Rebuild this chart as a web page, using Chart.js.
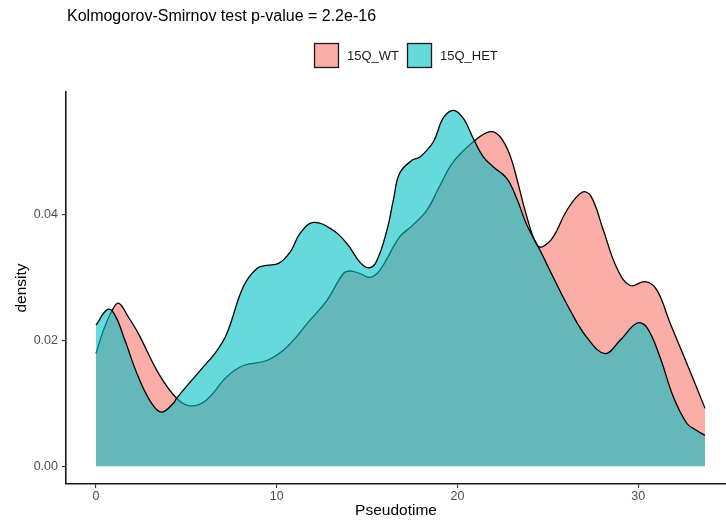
<!DOCTYPE html>
<html>
<head>
<meta charset="utf-8">
<script src="https://cdn.jsdelivr.net/npm/chart.js@4.4.1/dist/chart.umd.min.js"></script>
<style>
  html, body { margin: 0; padding: 0; background: #ffffff; }
  #wrap { width: 726px; height: 525px; position: relative; }
</style>
</head>
<body>
<div id="wrap"><canvas id="chart" width="726" height="525"></canvas></div>
<script>
// Kernel density of pseudotime for the two genotypes
const chartTitle = "Kolmogorov-Smirnov test p-value = 2.2e-16";
const groups = ["15Q_WT", "15Q_HET"];

const wtPseudotime = [0, 0.4, 0.85, 1.24, 1.79, 2.34, 3.45, 4.46, 5.2, 6.1, 7.23, 8.15, 9.45, 10.55, 11.84, 12.77, 13.69, 14.06, 14.6, 15.16, 15.7, 16.8, 17.5, 18.3, 19.04, 19.77, 20.88, 21.8, 22.36, 22.9, 23.3, 23.8, 24.39, 24.75, 25.3, 26.05, 26.9, 27.4, 28.07, 28.8, 29.55, 30.4, 31.03, 31.77, 32.7, 33.7];
const wtDensity    = [0.0179, 0.0215, 0.0245, 0.0259, 0.0237, 0.0211, 0.0148, 0.0108, 0.0096, 0.0105, 0.0142, 0.0160, 0.0168, 0.0189, 0.0232, 0.0263, 0.0306, 0.0310, 0.0306, 0.0300, 0.0311, 0.0364, 0.0382, 0.0406, 0.0446, 0.0483, 0.0515, 0.0531, 0.0523, 0.0494, 0.0455, 0.0400, 0.0351, 0.0349, 0.0364, 0.0406, 0.0435, 0.0428, 0.0375, 0.0316, 0.0287, 0.0293, 0.0280, 0.0227, 0.0163, 0.0092];

const hetPseudotime = [0, 0.65, 1.05, 1.6, 2.34, 3.08, 3.63, 4.28, 4.46, 5.76, 6.6, 7.23, 8.15, 8.9, 9.45, 10.1, 10.74, 11.3, 12.03, 13.1, 13.9, 14.6, 15.07, 15.5, 16.1, 16.45, 16.8, 17.5, 17.93, 18.67, 19.2, 19.77, 20.33, 20.88, 21.43, 21.99, 22.73, 23.28, 23.84, 24.57, 25.3, 26.23, 27.15, 28.17, 29.0, 29.92, 30.47, 31.2, 31.95, 32.7, 33.24, 33.7];
const hetDensity    = [0.0224, 0.0249, 0.0240, 0.0200, 0.0142, 0.0100, 0.0086, 0.0100, 0.0108, 0.0152, 0.0180, 0.0210, 0.0285, 0.0314, 0.0319, 0.0322, 0.0340, 0.0370, 0.0387, 0.0375, 0.0353, 0.0324, 0.0315, 0.0324, 0.0375, 0.0422, 0.0465, 0.0486, 0.0491, 0.0515, 0.0552, 0.0565, 0.0552, 0.0520, 0.0491, 0.0475, 0.0457, 0.0425, 0.0383, 0.0343, 0.0300, 0.0248, 0.0205, 0.0179, 0.0200, 0.0227, 0.0221, 0.0174, 0.0110, 0.0068, 0.0057, 0.0049];

const xTicks = [0, 10, 20, 30];
const yTicks = [0, 0.02, 0.04];

const fillColors = ["rgba(248,118,109,0.6)", "rgba(0,191,196,0.6)"];
const FONT = "'Liberation Sans', Arial, Helvetica, sans-serif";

function toPoints(xs, ys) {
  return xs.map((x, i) => ({ x: x, y: ys[i] }));
}

// Title and legend drawn above the panel
const headerPlugin = {
  id: 'header',
  afterDraw(chart) {
    const ctx = chart.ctx;
    ctx.save();
    ctx.fillStyle = '#000000';
    ctx.font = "16px " + FONT;
    ctx.textBaseline = 'middle';
    ctx.textAlign = 'left';
    ctx.fillText(chartTitle, 67, 17);

    const boxSize = 25;
    const boxTop = 43;
    const starts = [314, 407];
    ctx.font = "13px " + FONT;
    chart.data.datasets.forEach((ds, i) => {
      const bx = starts[i];
      ctx.fillStyle = '#ffffff';
      ctx.fillRect(bx, boxTop, boxSize, boxSize);
      ctx.fillStyle = ds.backgroundColor;
      ctx.fillRect(bx, boxTop, boxSize, boxSize);
      ctx.strokeStyle = '#1a1a1a';
      ctx.lineWidth = 1.3;
      ctx.strokeRect(bx + 0.5, boxTop + 0.5, boxSize - 1, boxSize - 1);
      ctx.fillStyle = '#1a1a1a';
      ctx.fillText(ds.label, bx + boxSize + 8, boxTop + boxSize / 2 + 0.5);
    });
    ctx.restore();
  }
};

const seriesStyle = {
  borderColor: '#000000',
  borderWidth: 1.3,
  fill: 'origin',
  pointRadius: 0,
  tension: 0.4
};

new Chart(document.getElementById('chart'), {
  type: 'line',
  data: {
    datasets: [
      Object.assign({
        label: groups[0],
        data: toPoints(wtPseudotime, wtDensity),
        backgroundColor: fillColors[0],
        order: 1
      }, seriesStyle),
      Object.assign({
        label: groups[1],
        data: toPoints(hetPseudotime, hetDensity),
        backgroundColor: fillColors[1],
        order: 0
      }, seriesStyle)
    ]
  },
  options: {
    responsive: false,
    animation: false,
    events: [],
    layout: { padding: { top: 92, left: 0, right: 0, bottom: 0 } },
    plugins: {
      legend: { display: false },
      title: { display: false },
      tooltip: { enabled: false },
      filler: { drawTime: 'beforeDatasetDraw' }
    },
    scales: {
      x: {
        type: 'linear',
        min: -1.66,
        max: 34.86,
        afterFit(scale) { scale.height = 41; },
        afterBuildTicks(scale) { scale.ticks = xTicks.map(v => ({ value: v })); },
        grid: { display: true, drawOnChartArea: false, drawTicks: true, tickLength: 4, color: '#333333', lineWidth: 1.1 },
        border: { display: true, color: '#1a1a1a', width: 1.6 },
        ticks: {
          color: '#4d4d4d',
          font: { family: FONT, size: 12.5 },
          padding: 1,
          maxRotation: 0,
          callback: v => String(v)
        },
        title: {
          display: true,
          text: 'Pseudotime',
          color: '#000000',
          font: { family: FONT, size: 15.5 },
          padding: { top: 0, bottom: 5 }
        }
      },
      y: {
        type: 'linear',
        min: -0.0028,
        max: 0.0594,
        afterFit(scale) { scale.width = 66; },
        afterBuildTicks(scale) { scale.ticks = yTicks.map(v => ({ value: v })); },
        grid: { display: true, drawOnChartArea: false, drawTicks: true, tickLength: 4, color: '#333333', lineWidth: 1.1 },
        border: { display: true, color: '#1a1a1a', width: 1.6 },
        ticks: {
          color: '#4d4d4d',
          font: { family: FONT, size: 12.5 },
          padding: 4,
          callback: v => v.toFixed(2)
        },
        title: {
          display: true,
          text: 'density',
          color: '#000000',
          font: { family: FONT, size: 15.5 },
          padding: { top: 12, bottom: 0 }
        }
      }
    }
  },
  plugins: [headerPlugin]
});
</script>
</body>
</html>
